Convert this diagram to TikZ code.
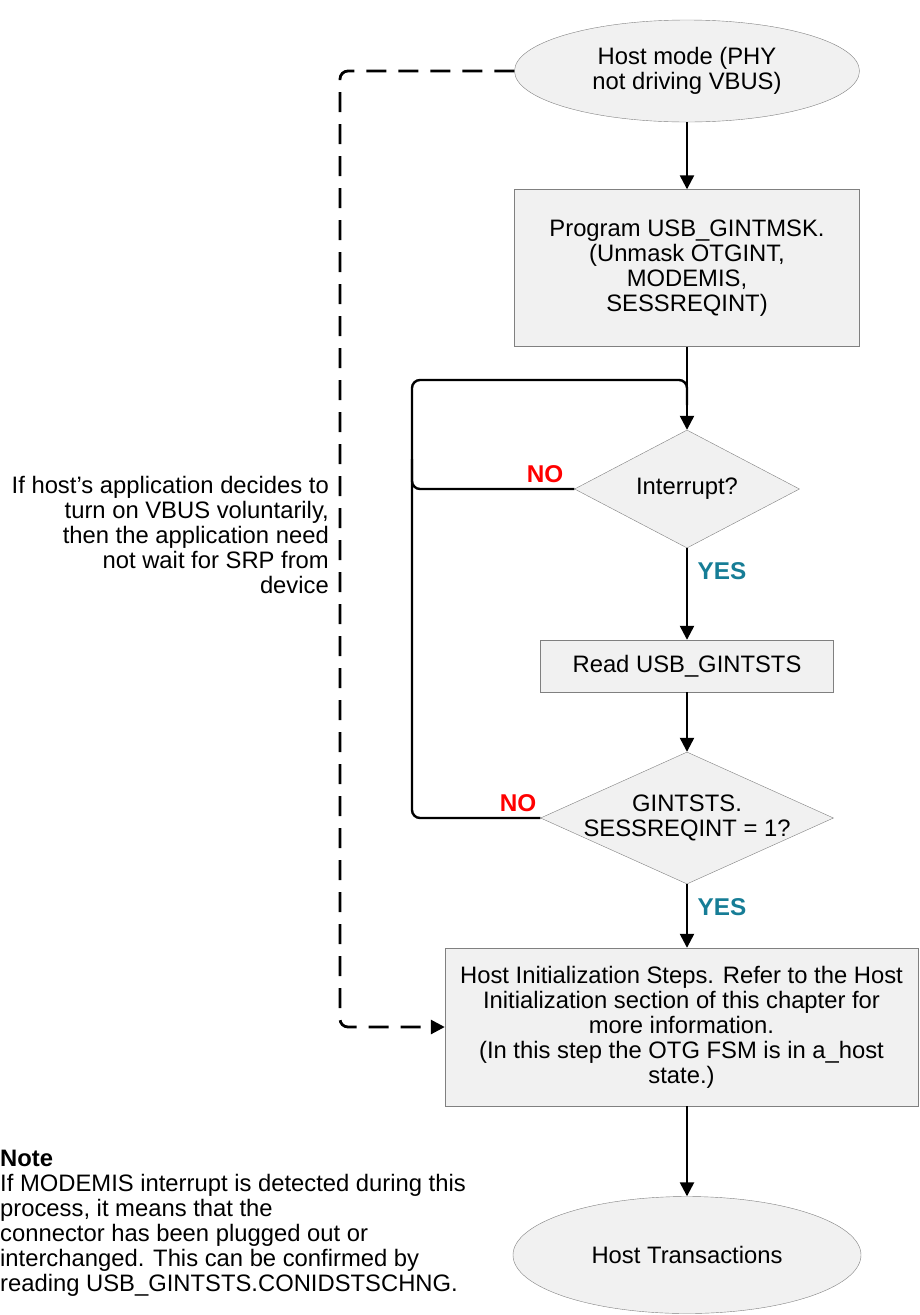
\documentclass[tikz,border=0pt]{standalone}
\usepackage{fontspec}
\setmainfont{Liberation Sans}
\usetikzlibrary{shapes.geometric,arrows.meta}
\definecolor{boxgray}{HTML}{F1F1F1}
\definecolor{edgegray}{HTML}{808080}
\definecolor{yesteal}{RGB}{22,125,150}

\begin{document}
\begin{tikzpicture}[x=1pt,y=-1pt,
    txt/.style={font=\fontsize{23.8}{25}\selectfont, align=center},
    term/.style={ellipse, draw=edgegray, fill=boxgray, inner sep=0pt, txt},
    proc/.style={rectangle, draw=edgegray, fill=boxgray, inner sep=0pt, txt},
    decision/.style={diamond, draw=edgegray, fill=boxgray, inner sep=0pt},
    flow/.style={line width=2.4pt, -{Triangle[length=14pt,width=14pt]}},
    loopline/.style={line width=2.4pt, rounded corners=8pt},
    dashline/.style={line width=2.8pt, dash pattern=on 20pt off 12pt, rounded corners=8pt, -{Triangle[length=14pt,width=14pt]}},
    nolabel/.style={font=\fontsize{24.3}{25}\selectfont\bfseries, text=red},
    yeslabel/.style={font=\fontsize{24.3}{25}\selectfont\bfseries, text=yesteal}]
  \useasboundingbox (0,0) rectangle (920,1315);

  % flow boxes
  \node[term, minimum width=345, minimum height=102] (hostmode) at (687,71) {Host mode (PHY\\not driving VBUS)};
  \node[proc, minimum width=345, minimum height=157] (progmsk) at (687,268) {Program USB\_GINTMSK.\\(Unmask OTGINT,\\MODEMIS,\\SESSREQINT)};
  \node[decision, minimum width=225, minimum height=118, label={[txt]center:Interrupt?}] (intr) at (687,489) {};
  \node[proc, minimum width=293, minimum height=52] (readsts) at (687,666) {Read USB\_GINTSTS};
  \node[decision, minimum width=293, minimum height=132, label={[txt]center:GINTSTS.\\SESSREQINT = 1?}] (sessreq) at (687,818) {};
  \node[proc, minimum width=473, minimum height=158] (hostinit) at (681.5,1027) {Host Initialization Steps. Refer to the Host\\Initialization section of this chapter for\\more information.\\(In this step the OTG FSM is in a\_host\\state.)};
  \node[term, minimum width=348, minimum height=117] (hosttrans) at (687,1255) {Host Transactions};

  % side texts
  \node[txt, align=right, inner sep=0pt, anchor=east] (vbusnote) at (329,535) {If host's application decides to\\turn on VBUS voluntarily,\\then the application need\\not wait for SRP from\\device};
  \node[txt, align=left, inner sep=0pt, anchor=west] (modnote) at (0,1223) {\textbf{Note}\\If MODEMIS interrupt is detected during this\\process, it means that the\\connector has been plugged out or\\interchanged. This can be confirmed by\\reading USB\_GINTSTS.CONIDSTSCHNG.};

  % loop corners
  \coordinate (looptr) at (687,380);
  \coordinate (looptl) at (412,380);
  \coordinate (loopbl) at (412,818);
  \coordinate (loopmid) at (412,489);

  % connectors
  \draw[flow] (hostmode) -- (progmsk);
  \draw[flow] (progmsk) -- (intr);
  \draw[flow] (intr) -- (readsts);
  \draw[flow] (readsts) -- (sessreq);
  \draw[flow] (sessreq.south) -- (sessreq.south |- hostinit.north);
  \draw[flow] (hostinit.south -| hosttrans.north) -- (hosttrans.north);
  \draw[loopline] (sessreq.west) -- (loopbl) -- (looptl) -- (looptr) -- ++(0,25);
  \draw[loopline] (intr.west) -- (loopmid) -- ++(0,-30);
  \draw[dashline] (hostmode.west) -- (340,71) -- (340,1027) -- (hostinit.west);

  % branch labels
  \node[nolabel] (no1) at (545,474) {NO};
  \node[nolabel] (no2) at (518,803) {NO};
  \node[yeslabel] (yes1) at (722,571) {YES};
  \node[yeslabel] (yes2) at (722,907) {YES};
\end{tikzpicture}
\end{document}
